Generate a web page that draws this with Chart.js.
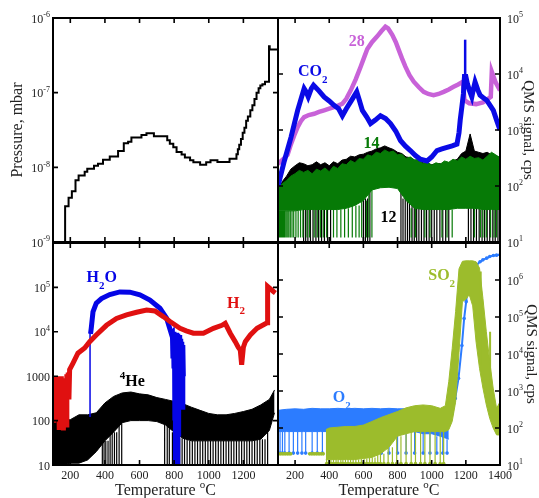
<!DOCTYPE html>
<html>
<head>
<meta charset="utf-8">
<script src="https://cdn.jsdelivr.net/npm/chart.js@4.4.1/dist/chart.umd.min.js"></script>
<style>
  body { margin: 0; background: #fff; }
  #wrap { position: relative; width: 539px; height: 498px; }
  #wrap canvas { position: absolute; left: 0; top: 0; }
</style>
</head>
<body>
<div id="wrap">
  <canvas id="tl" width="539" height="498"></canvas>
  <canvas id="tr" width="539" height="498"></canvas>
  <canvas id="bl" width="539" height="498"></canvas>
  <canvas id="br" width="539" height="498"></canvas>
</div>
<script>
const SERIF = '"Liberation Serif", "Times New Roman", serif';

// temperature grids for the noisy bands
const T50 = [100, 150, 200, 250, 300, 350, 400, 450, 500, 550, 600, 650, 700, 750, 800, 850, 900, 950, 1000, 1050, 1100, 1150, 1200, 1250, 1300, 1350, 1400];
const T25 = [100, 125, 150, 175, 200, 225, 250, 275, 300, 325, 350, 375, 400, 425, 450, 475, 500, 525, 550, 575, 600, 625, 650, 675, 700, 725, 750, 775, 800, 825, 850, 875, 900, 925, 950, 975, 1000, 1025, 1050, 1075, 1100, 1125, 1150, 1175, 1200, 1225, 1250, 1275, 1300, 1325, 1350, 1375, 1400];

const xTicksLeft = [200, 400, 600, 800, 1000, 1200];
const xTicksRight = [200, 400, 600, 800, 1000, 1200, 1400];

// top left: pressure
const pressT = [170, 170, 190, 209, 230, 248, 283, 298, 337, 360, 389, 428, 476, 509, 534, 553, 611, 640, 683, 760, 775, 795, 814, 843, 862, 892, 911, 950, 985, 1010, 1050, 1120, 1160, 1168, 1176, 1186, 1196, 1206, 1216, 1226, 1240, 1252, 1264, 1276, 1288, 1298, 1310, 1325, 1348, 1352, 1362, 1400];
const pressV = [5e-10, 2e-9, 3e-9, 3.9e-9, 4.8e-9, 6.7e-9, 7.8e-9, 8.7e-9, 9.6e-9, 1.05e-8, 1.12e-8, 1.26e-8, 1.4e-8, 1.65e-8, 2.1e-8, 2.2e-8, 2.5e-8, 2.7e-8, 2.87e-8, 2.6e-8, 2.3e-8, 2.07e-8, 1.86e-8, 1.6e-8, 1.48e-8, 1.35e-8, 1.24e-8, 1.17e-8, 1.08e-8, 1.17e-8, 1.24e-8, 1.18e-8, 1.3e-8, 1.5e-8, 1.75e-8, 2.0e-8, 2.4e-8, 2.9e-8, 3.4e-8, 4.2e-8, 4.8e-8, 5.8e-8, 6.8e-8, 8.2e-8, 1.0e-7, 1.15e-7, 1.25e-7, 1.3e-7, 1.4e-7, 4.2e-7, 3.8e-7, 3.8e-7];
const pressTicks = [1e-8, 1e-7];
const pressLabels = [1e-9, 1e-8, 1e-7, 1e-6];

// top right: m/z 28, CO2, 14, 12
const m28T = [100, 130, 156, 176, 195, 215, 235, 253, 280, 312, 340, 370, 400, 428, 455, 477, 500, 526, 555, 584, 605, 623, 650, 681, 705, 729, 745, 769, 790, 807, 826, 846, 870, 895, 925, 953, 980, 1011, 1040, 1070, 1100, 1128, 1155, 1183, 1192, 1220, 1260, 1300, 1330, 1346, 1352, 1375, 1400];
const m28V = [250, 300, 360, 560, 800, 1130, 1450, 1700, 1850, 1950, 2100, 2240, 2400, 2570, 2750, 2950, 3600, 5100, 8000, 13500, 20000, 28000, 37000, 47000, 58000, 70000, 65000, 50000, 37000, 27000, 19000, 13500, 9500, 7300, 5800, 4800, 4400, 4200, 4400, 4800, 5300, 5900, 6500, 7300, 3400, 3000, 2900, 3100, 3600, 3900, 11000, 7000, 5100];
const co2T = [100, 108, 137, 176, 215, 253, 265, 277, 295, 308, 340, 370, 400, 428, 455, 477, 500, 526, 561, 575, 594, 620, 642, 670, 700, 730, 759, 790, 817, 845, 875, 905, 934, 973, 1000, 1031, 1060, 1090, 1120, 1148, 1160, 1167, 1178, 1186, 1192, 1200, 1209, 1222, 1235, 1245, 1254, 1270, 1283, 1300, 1322, 1340, 1361, 1380, 1400];
const co2V = [100, 125, 280, 740, 2240, 5500, 4800, 3900, 5500, 6300, 5000, 3900, 3300, 2750, 2400, 1800, 2400, 3200, 4800, 3500, 2240, 1700, 1300, 1500, 1800, 1600, 1300, 950, 650, 520, 430, 350, 300, 280, 330, 430, 460, 490, 520, 560, 900, 1500, 2800, 4500, 9000, 9000, 6700, 5000, 3900, 5500, 7200, 5200, 4200, 3800, 3400, 2800, 2240, 1500, 1000];
const co2SpikeT = [1196];
const co2SpikeLo = [8000];
const co2SpikeHi = [41000];
const c12Hi = [80, 120, 150, 200, 230, 260, 250, 230, 240, 270, 240, 260, 230, 270, 250, 290, 300, 340, 330, 360, 370, 400, 420, 460, 480, 520, 480, 450, 400, 380, 330, 320, 290, 280, 260, 250, 240, 250, 250, 240, 260, 280, 300, 380, 420, 850, 420, 400, 380, 400, 360, 350, 320];
const c12Lo = [40, 40, 40, 40, 40, 40, 40, 40, 45, 50, 60, 90, 100, 100, 95, 60, 45, 40, 40, 40, 40, 45, 45, 45, 40, 40, 40];
const c12SpikeT = [250, 262, 275, 290, 305, 322, 338, 355, 372, 390, 408, 600, 612, 625, 638, 820, 832, 845, 858, 870, 885, 898, 912, 925, 940, 955, 970, 985, 1000, 1015, 1030, 1048, 1065, 1082, 1100, 1215, 1230, 1245, 1262, 1278, 1295, 1310, 1325, 1340, 1358, 1372, 1388];
const n14Hi = [93, 110, 126, 150, 166, 190, 175, 190, 165, 200, 185, 210, 180, 225, 205, 250, 240, 285, 260, 310, 300, 360, 340, 400, 380, 440, 400, 420, 360, 370, 310, 330, 290, 300, 250, 270, 235, 260, 245, 280, 265, 300, 280, 330, 300, 340, 310, 320, 290, 340, 400, 360, 320];
const n14Lo = [36, 36, 36, 38, 38, 38, 38, 38, 40, 45, 55, 85, 93, 95, 90, 55, 40, 38, 38, 38, 38, 40, 40, 40, 38, 38, 38];
const n14SpikeT = [104, 110, 117, 124, 131, 138, 146, 154, 163, 172, 182, 192, 205, 218, 232, 246, 270, 285, 312, 330, 348, 365, 385, 425, 445, 468, 490, 512, 535, 556, 575, 590, 618, 632, 650, 880, 905, 960, 990, 1060, 1090, 1120, 1250, 1285, 1300, 1320, 1345, 1365, 1380];
const qmsTopTicks = [100, 1000, 10000];
const qmsTopLabels = [10, 100, 1000, 10000, 100000];

// bottom left: H2O, H2, 4He
const h2oDropT = [314, 314];
const h2oDropV = [120, 12000];
const h2oT = [317, 321, 331, 350, 380, 428, 486, 544, 602, 660, 718, 757, 786, 790, 793, 796, 799, 802, 804, 806, 808, 811, 813, 816, 818, 821, 823, 826, 829, 832, 835, 838, 841, 844, 847, 850, 853];
const h2oV = [9000, 12000, 28000, 44000, 56000, 69000, 79000, 78000, 68000, 52000, 34000, 20000, 8500, 9000, 2500, 10000, 1500, 9000, 100, 8000, 10, 9500, 300, 8000, 10, 9000, 50, 7000, 600, 8500, 800, 7000, 700, 6000, 200, 5000, 1000];
const h2T = [100, 104, 108, 112, 116, 120, 124, 128, 132, 136, 140, 144, 148, 152, 156, 160, 164, 168, 172, 176, 180, 184, 188, 192, 196, 215, 244, 283, 312, 350, 409, 467, 525, 583, 641, 689, 737, 776, 834, 870, 911, 969, 1027, 1076, 1095, 1124, 1153, 1170, 1182, 1190, 1200, 1211, 1240, 1279, 1337, 1340, 1375, 1385];
const h2V = [600, 90, 900, 150, 1000, 100, 800, 200, 1000, 70, 900, 300, 1000, 120, 800, 60, 700, 250, 900, 80, 1100, 400, 1200, 300, 1400, 1950, 3300, 4300, 6000, 8500, 14000, 20000, 24000, 27500, 31000, 29500, 22000, 17000, 12000, 10500, 9300, 9300, 12000, 14000, 15500, 9300, 6000, 4500, 3900, 1800, 4500, 6000, 8500, 12000, 16000, 105000, 80000, 75000];
const he4T = [100, 150, 200, 250, 300, 350, 400, 450, 500, 550, 600, 650, 700, 750, 800, 850, 900, 950, 1000, 1050, 1100, 1150, 1200, 1250, 1300, 1350, 1380];
const he4Hi = [100, 100, 105, 135, 135, 150, 250, 350, 420, 440, 400, 380, 330, 300, 270, 240, 200, 170, 145, 135, 135, 145, 160, 180, 225, 300, 490];
const he4Lo = [10, 10, 11, 11, 13, 20, 35, 55, 90, 100, 100, 100, 95, 80, 55, 40, 35, 35, 35, 35, 35, 35, 35, 35, 38, 60, 150];
const he4SpikeT = [385, 395, 405, 418, 430, 442, 455, 468, 482, 497, 745, 760, 772, 790, 805, 818, 832, 846, 860, 875, 890, 905, 920, 935, 950, 965, 980, 995, 1010, 1025, 1040, 1055, 1070, 1085, 1100, 1115, 1130, 1145, 1160, 1175, 1190, 1205, 1220, 1235, 1250, 1265, 1280, 1295, 1310, 1325, 1340];
const qmsBLTicks = [100, 1000, 10000, 100000];
const qmsBLLabels = [10, 100, 1000, 10000, 100000];

// bottom right: O2, SO2
const o2T = [100, 150, 200, 250, 300, 350, 400, 450, 500, 550, 600, 650, 700, 750, 800, 850, 900, 950, 1000, 1050, 1100];
const o2Hi = [300, 320, 330, 320, 340, 330, 330, 340, 330, 340, 330, 340, 330, 340, 330, 330, 320, 310, 300, 250, 130];
const o2Lo = [80, 80, 80, 80, 80, 80, 80, 80, 80, 80, 80, 80, 80, 80, 80, 80, 80, 70, 70, 60, 50];
const o2SpikeT = [112, 126, 140, 165, 190, 215, 240, 262, 300, 330, 360, 395, 430, 470, 505, 545, 585, 625, 665, 705, 750, 800, 850, 900, 950, 990, 1030, 1065, 1090];
const o2RiseT = [1100, 1120, 1138, 1157, 1177, 1190, 1202, 1215, 1235, 1254, 1264, 1283, 1300, 1322, 1340, 1361, 1380, 1400];
const o2RiseV = [130, 250, 630, 2200, 17000, 91000, 260000, 900000, 2100000, 2500000, 2600000, 3100000, 3500000, 3900000, 4300000, 4600000, 4700000, 4800000];
const so2T = [380, 400, 450, 500, 550, 600, 650, 700, 750, 800, 850, 900, 950, 1000, 1050, 1080, 1100, 1120, 1140, 1160, 1180, 1200, 1220, 1240, 1260, 1280, 1300, 1320, 1340, 1360, 1380, 1400];
const so2Hi = [90, 100, 105, 110, 110, 120, 150, 190, 230, 280, 350, 400, 420, 400, 340, 400, 1800, 14000, 140000, 2000000, 3200000, 3300000, 3300000, 3300000, 3100000, 2100000, 320000, 40000, 6200, 1200, 340, 510];
const so2Lo = [14, 14, 14, 14, 14, 15, 16, 20, 30, 60, 70, 80, 80, 80, 80, 80, 90, 150, 500, 11000, 260000, 300000, 400000, 200000, 21000, 4100, 1200, 420, 180, 100, 65, 65];
const so2SpikeT = [385, 398, 410, 425, 440, 452, 468, 480, 495, 510, 525, 540, 556, 572, 588, 604, 620, 636, 652, 668, 684, 700, 720, 745, 770, 795, 820, 850, 880, 905, 935, 960, 990, 1020, 1050, 1070];
const so2DotT = [105, 115, 125, 135, 145, 155, 165, 175, 230, 285, 295, 305, 315, 325, 335, 345, 355, 365];
const so2DotV = [20, 20, 20, 20, 20, 20, 20, 20, null, 20, 20, 20, 20, 20, 20, 20, 20, 20];
const so2UpT = [1287, 1342];
const so2UpLo = [5000, 300];
const so2UpHi = [1700000, 40000];
const qmsBRTicks = [100, 1000, 10000, 100000, 1000000];
const qmsBRLabels = [10, 100, 1000, 10000, 100000, 1000000];

function pts(T, V) { return T.map((t, i) => ({ x: t, y: V[i] })); }

function spikes(T, gridT, gridLo, floor, dot) {
  const out = [];
  T.forEach(t => {
    let k = 0;
    gridT.forEach((g, i) => { if (Math.abs(g - t) < Math.abs(gridT[k] - t)) k = i; });
    out.push({ x: t, y: gridLo[k] }, { x: t, y: floor, dot: dot }, { x: t, y: null });
  });
  return out;
}

function segments(T, lo, hi) {
  const out = [];
  T.forEach((t, i) => out.push({ x: t, y: lo[i] }, { x: t, y: hi[i] }, { x: t, y: null }));
  return out;
}

function line(data, color, width, extra) {
  return Object.assign({ data, borderColor: color, backgroundColor: color, borderWidth: width,
    pointRadius: 0, tension: 0, fill: false, clip: 0 }, extra || {});
}

function band(Thi, hi, Tlo, lo, color) {
  return [
    line(pts(Thi, hi), color, 1, { fill: '+1' }),
    line(pts(Tlo, lo), color, 1)
  ];
}

function spikeSet(data, color, width) {
  return line(data, color, width, {
    pointRadius: c => (c.raw && c.raw.dot) ? 1.8 : 0,
    pointBorderWidth: 0, pointBackgroundColor: color
  });
}

function drawParts(ctx, parts, x, y, size, weight, align) {
  const font = k => weight + ' ' + (k ? Math.round(size * 0.68) : size) + 'px ' + SERIF;
  let w = 0;
  parts.forEach(([s, k]) => { ctx.font = font(k); w += ctx.measureText(s).width; });
  let cx = align === 'center' ? x - w / 2 : align === 'right' ? x - w : x;
  ctx.textAlign = 'left';
  ctx.textBaseline = 'alphabetic';
  parts.forEach(([s, k]) => {
    ctx.font = font(k);
    ctx.fillText(s, cx, y + (k < 0 ? size * 0.42 : k > 0 ? -size * 0.42 : 0));
    cx += ctx.measureText(s).width;
  });
}

const framePlugin = {
  id: 'frame',
  afterDraw(chart, args, o) {
    const { ctx, chartArea: a } = chart;
    const x = chart.scales.x, y = chart.scales.y;
    ctx.save();
    ctx.strokeStyle = '#000';
    ctx.lineWidth = 1.6;
    ctx.beginPath();
    o.xTicks.forEach(v => {
      const p = x.getPixelForValue(v);
      ctx.moveTo(p, a.top); ctx.lineTo(p, a.top + 5);
      ctx.moveTo(p, a.bottom); ctx.lineTo(p, a.bottom - 5);
    });
    o.yTicks.forEach(v => {
      const p = y.getPixelForValue(v);
      ctx.moveTo(a.left, p); ctx.lineTo(a.left + 5, p);
      ctx.moveTo(a.right, p); ctx.lineTo(a.right - 5, p);
    });
    ctx.stroke();
    ctx.lineWidth = 2;
    ctx.strokeRect(a.left, a.top, a.right - a.left, a.bottom - a.top);

    ctx.fillStyle = '#222';
    o.yLabels.forEach(v => {
      const p = y.getPixelForValue(v);
      const parts = v < o.powFrom ? [[String(v), 0]] : [['10', 0], [String(Math.round(Math.log10(v))), 1]];
      if (o.ySide === 'left') drawParts(ctx, parts, a.left - 3, p + 4.5, 12, 'normal', 'right');
      else drawParts(ctx, parts, a.right + 7, p + 4.5, 12, 'normal', 'left');
    });
    (o.xLabels || []).forEach(v => {
      drawParts(ctx, [[String(v), 0]], x.getPixelForValue(v), a.bottom + 14, 12, 'normal', 'center');
    });
    if (o.xTitle) {
      drawParts(ctx, [['Temperature ', 0], ['o', 1], ['C', 0]], (a.left + a.right) / 2, a.bottom + 30, 16, 'normal', 'center');
    }
    if (o.leftTitle) {
      ctx.save();
      ctx.translate(a.left - 31, (a.top + a.bottom) / 2);
      ctx.rotate(-Math.PI / 2);
      drawParts(ctx, [[o.leftTitle, 0]], 0, 0, 16, 'normal', 'center');
      ctx.restore();
    }
    if (o.rightTitle) {
      ctx.save();
      ctx.translate(a.right + o.rightTitleGap, (a.top + a.bottom) / 2);
      ctx.rotate(Math.PI / 2);
      drawParts(ctx, [[o.rightTitle, 0]], 0, 0, 15, 'normal', 'center');
      ctx.restore();
    }
    (o.notes || []).forEach(n => {
      ctx.fillStyle = n.color;
      drawParts(ctx, n.parts, x.getPixelForValue(n.t), y.getPixelForValue(n.v), 16, 'bold', 'left');
    });
    ctx.restore();
  }
};

function panel(id, datasets, yMin, yMax, padding, frame) {
  datasets.forEach((d, i) => { d.order = datasets.length - i; });
  return new Chart(document.getElementById(id), {
    type: 'line',
    data: { datasets },
    options: {
      responsive: false,
      animation: false,
      devicePixelRatio: 1,
      events: [],
      layout: { padding },
      plugins: { legend: { display: false }, tooltip: { enabled: false }, frame },
      scales: {
        x: { type: 'linear', min: 100, max: 1400, display: false },
        y: { type: 'logarithmic', min: yMin, max: yMax, display: false }
      }
    },
    plugins: [framePlugin]
  });
}

const cMag = '#c862d8', cCO2 = '#0a0ae6', cGreen = '#067a06', cH2O = '#0505e6', cH2 = '#e01010';
const cO2 = '#2c7cff', cSO2 = '#9cbc2c';

panel('tl', [
  line(pts(pressT, pressV), '#000', 2, { stepped: 'after' })
], 1e-9, 1e-6, { left: 53, top: 18, right: 261, bottom: 256 }, {
  xTicks: xTicksLeft, yTicks: pressTicks, yLabels: pressLabels, powFrom: 0, ySide: 'left',
  leftTitle: 'Pressure, mbar'
});

panel('tr', [
  ...band(T25, c12Hi, T50, c12Lo, '#000'),
  spikeSet(spikes(c12SpikeT, T50, c12Lo, 10, false), '#000', 1.2),
  ...band(T25, n14Hi, T50, n14Lo, cGreen),
  spikeSet(spikes(n14SpikeT, T50, n14Lo, 12, false), cGreen, 1.2),
  line(pts(m28T, m28V), cMag, 4.5),
  line(pts(co2T, co2V), cCO2, 5),
  line(segments(co2SpikeT, co2SpikeLo, co2SpikeHi), cCO2, 2.5)
], 10, 1e5, { left: 278, top: 18, right: 39, bottom: 256 }, {
  xTicks: xTicksRight, yTicks: qmsTopTicks, yLabels: qmsTopLabels, powFrom: 0, ySide: 'right',
  rightTitle: 'QMS signal, cps', rightTitleGap: 24,
  notes: [
    { t: 514, v: 32000, color: cMag, parts: [['28', 0]] },
    { t: 217, v: 9100, color: cCO2, parts: [['CO', 0], ['2', -1]] },
    { t: 601, v: 470, color: cGreen, parts: [['14', 0]] },
    { t: 700, v: 23, color: '#000', parts: [['12', 0]] }
  ]
});

panel('bl', [
  ...band(he4T, he4Hi, he4T, he4Lo, '#000'),
  spikeSet(spikes(he4SpikeT, he4T, he4Lo, 10, false), '#000', 1.2),
  line(pts(h2oDropT, h2oDropV), cH2O, 1.5),
  line(pts(h2oT, h2oV), cH2O, 5),
  line(pts(h2T, h2V), cH2, 5)
], 10, 1e6, { left: 53, top: 243, right: 261, bottom: 33 }, {
  xTicks: xTicksLeft, yTicks: qmsBLTicks, yLabels: qmsBLLabels, powFrom: 10000, ySide: 'left',
  xLabels: xTicksLeft, xTitle: true,
  notes: [
    { t: 294, v: 129000, color: cH2O, parts: [['H', 0], ['2', -1], ['O', 0]] },
    { t: 1106, v: 35000, color: cH2, parts: [['H', 0], ['2', -1]] },
    { t: 486, v: 600, color: '#000', parts: [['4', 1], ['He', 0]] }
  ]
});

panel('br', [
  ...band(o2T, o2Hi, o2T, o2Lo, cO2),
  spikeSet(spikes(o2SpikeT, o2T, o2Lo, 21, true), cO2, 1.2),
  line(pts(o2RiseT, o2RiseV), cO2, 2, { pointRadius: 1.8, pointBorderWidth: 0, pointBackgroundColor: cO2 }),
  ...band(so2T, so2Hi, so2T, so2Lo, cSO2),
  spikeSet(spikes(so2SpikeT, so2T, so2Lo, 11, true), cSO2, 1.2),
  line(pts(so2DotT, so2DotV), cSO2, 1.5, { pointRadius: 1.8, pointBorderWidth: 0, pointBackgroundColor: cSO2 }),
  line(segments(so2UpT, so2UpLo, so2UpHi), cSO2, 2)
], 10, 1e7, { left: 278, top: 243, right: 39, bottom: 33 }, {
  xTicks: xTicksRight, yTicks: qmsBRTicks, yLabels: qmsBRLabels, powFrom: 0, ySide: 'right',
  xLabels: xTicksRight, xTitle: true,
  rightTitle: 'QMS signal, cps', rightTitleGap: 27,
  notes: [
    { t: 421, v: 500, color: cO2, parts: [['O', 0], ['2', -1]] },
    { t: 980, v: 1000000, color: cSO2, parts: [['SO', 0], ['2', -1]] }
  ]
});
</script>
</body>
</html>
